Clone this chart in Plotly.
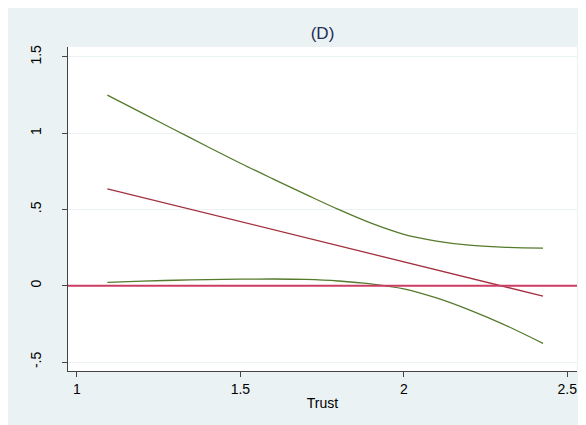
import plotly.graph_objects as go

# Data
trust = [1.093, 1.2, 1.3, 1.4, 1.5, 1.6, 1.7, 1.8, 1.9, 2.0, 2.1, 2.2, 2.3, 2.426]
effect = [0.635, 0.579, 0.526, 0.473, 0.420, 0.368, 0.315, 0.262, 0.210, 0.157, 0.104, 0.052, -0.001, -0.068]
upper = [1.249, 1.131, 1.021, 0.911, 0.803, 0.700, 0.599, 0.500, 0.410, 0.337, 0.293, 0.266, 0.253, 0.246]
lower = [0.022, 0.030, 0.036, 0.040, 0.043, 0.044, 0.041, 0.031, 0.012, -0.020, -0.080, -0.158, -0.248, -0.378]

y_ticks = [-0.5, 0, 0.5, 1, 1.5]
y_ticktext = ["-.5", "0", ".5", "1", "1.5"]
x_ticks = [1, 1.5, 2, 2.5]
x_ticktext = ["1", "1.5", "2", "2.5"]

BG = "#EAF2F3"
GREEN = "#557A2C"
MAROON = "#A3303F"
ZERO = "#CC3D64"
AXIS = "#444444"
FONT = "Liberation Sans, Arial, sans-serif"

fig = go.Figure()
fig.add_trace(go.Scatter(x=trust, y=upper, mode="lines", line=dict(color=GREEN, width=1.3),
                         line_shape="spline", showlegend=False))
fig.add_trace(go.Scatter(x=trust, y=lower, mode="lines", line=dict(color=GREEN, width=1.3),
                         line_shape="spline", showlegend=False))
fig.add_trace(go.Scatter(x=trust, y=effect, mode="lines", line=dict(color=MAROON, width=1.3),
                         showlegend=False))

W, H = 586, 425
L, R, T, B = 60, 17, 39, 62
pw = W - L - R

fig.add_shape(type="line", xref="paper", yref="y", x0=0, x1=1, y0=0, y1=0,
              line=dict(color=ZERO, width=2), layer="above")

fig.update_layout(
    width=W, height=H,
    margin=dict(l=L, r=R, t=T, b=B, autoexpand=False),
    paper_bgcolor=BG, plot_bgcolor="white",
    font=dict(family=FONT, size=14, color="black"),
    title=dict(text="(D)", x=(L + pw / 2) / W, xanchor="center", y=1 - 25 / H, yanchor="middle",
               font=dict(family=FONT, size=17, color="#1E2D53"), automargin=False),
)
fig.update_xaxes(range=[0.9725, 2.53], tickvals=x_ticks, ticktext=x_ticktext, automargin=False,
                 showgrid=False, zeroline=False, showline=True, linecolor=AXIS, linewidth=1,
                 ticks="outside", ticklen=5, tickcolor=AXIS, tickfont=dict(size=14),
                 title=dict(text="Trust", standoff=2, font=dict(size=14)))
fig.update_yaxes(range=[-0.559, 1.565], tickvals=y_ticks, ticktext=y_ticktext, tickangle=-90,
                 automargin=False, tickfont=dict(size=14),
                 showgrid=True, gridcolor=BG, gridwidth=1, zeroline=False,
                 showline=True, linecolor=AXIS, linewidth=1,
                 ticks="outside", ticklen=5, tickcolor=AXIS, ticklabelstandoff=15)

fig.write_html("out.html")
